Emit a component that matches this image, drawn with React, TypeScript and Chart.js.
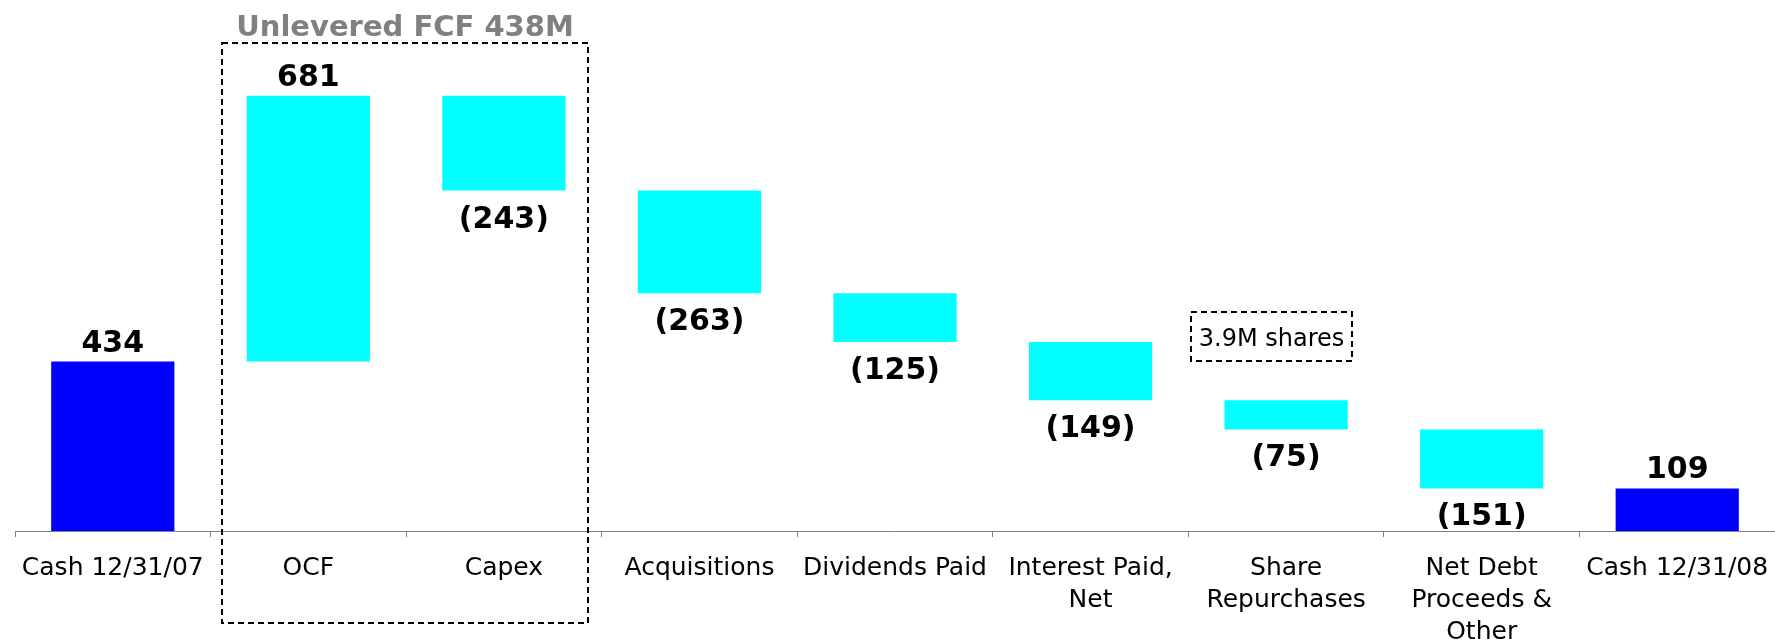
import React, { useEffect, useRef } from "react";
import { Chart, registerables } from "chart.js";

Chart.register(...registerables);

const categories: (string | string[])[] = [
  "Cash 12/31/07",
  "OCF",
  "Capex",
  "Acquisitions",
  "Dividends Paid",
  ["Interest Paid,", "Net"],
  ["Share", "Repurchases"],
  ["Net Debt", "Proceeds &", "Other"],
  "Cash 12/31/08",
];
// changes: first and last are totals
const changes = [434, 681, -243, -263, -125, -149, -75, -151, 109];
const isTotal = [true, false, false, false, false, false, false, false, true];
const labelTexts = ["434", "681", "(243)", "(263)", "(125)", "(149)", "(75)", "(151)", "109"];
const titleText = "Unlevered FCF 438M";
const noteText = "3.9M shares";

const TOTAL_COLOR = "#0000FF";
const DELTA_COLOR = "#00FFFF";

function buildRanges(): [number, number][] {
  const out: [number, number][] = [];
  let run = 0;
  changes.forEach((v, i) => {
    if (isTotal[i]) {
      out.push([0, v]);
      run = v;
    } else {
      out.push([run, run + v]);
      run += v;
    }
  });
  return out;
}

const overlayPlugin = {
  id: "overlay",
  afterDatasetsDraw(chart: any) {
    const ctx = chart.ctx;
    const meta = chart.getDatasetMeta(0);
    const xs = chart.scales.x;
    const ys = chart.scales.y;
    const ranges = buildRanges();
    ctx.save();
    // value labels
    ctx.font = "bold 30px 'DejaVu Sans', Verdana, sans-serif";
    ctx.fillStyle = "#000";
    ctx.textAlign = "center";
    ctx.textBaseline = "alphabetic";
    meta.data.forEach((bar: any, i: number) => {
      const [a, b] = ranges[i];
      const top = ys.getPixelForValue(Math.max(a, b));
      const bottom = ys.getPixelForValue(Math.min(a, b));
      if (changes[i] >= 0) {
        ctx.fillText(labelTexts[i], bar.x, top - 10);
      } else {
        ctx.fillText(labelTexts[i], bar.x, bottom + 37);
      }
    });
    const catW = (xs.right - xs.left) / categories.length;
    // dashed group box
    ctx.setLineDash([6, 4]);
    ctx.lineWidth = 2;
    ctx.strokeStyle = "#000";
    const bl = Math.round(xs.getPixelForValue(1) - 0.44 * catW);
    const br = Math.round(xs.getPixelForValue(2) + 0.43 * catW);
    const bt = Math.round(ys.getPixelForValue(1250));
    const bb = Math.round(chart.chartArea.bottom + 92);
    ctx.strokeRect(bl, bt, br - bl, bb - bt);
    // title
    ctx.setLineDash([]);
    ctx.font = "bold 29px 'DejaVu Sans', Verdana, sans-serif";
    ctx.fillStyle = "#808080";
    ctx.fillText(titleText, (bl + br) / 2, 36);
    // note box
    ctx.setLineDash([6, 4]);
    ctx.lineWidth = 2;
    ctx.strokeStyle = "#000";
    const sc = xs.getPixelForValue(6);
    const nl = Math.round(sc - 0.484 * catW);
    const nr = Math.round(sc + 0.335 * catW);
    const nt = Math.round(ys.getPixelForValue(562));
    const nb = Math.round(ys.getPixelForValue(436));
    ctx.strokeRect(nl, nt, nr - nl, nb - nt);
    ctx.setLineDash([]);
    ctx.font = "24px 'DejaVu Sans', Verdana, sans-serif";
    ctx.fillStyle = "#000";
    ctx.fillText(noteText, (nl + nr) / 2, nb - 15);
    ctx.restore();
  },
};

export default function App() {
  const ref = useRef<HTMLCanvasElement | null>(null);
  useEffect(() => {
    document.body.style.margin = "0";
    const ranges = buildRanges();
    const chart = new Chart(ref.current as HTMLCanvasElement, {
      type: "bar",
      data: {
        labels: categories as any,
        datasets: [
          {
            data: ranges as any,
            backgroundColor: isTotal.map((t) => (t ? TOTAL_COLOR : DELTA_COLOR)),
            borderWidth: 0,
            barPercentage: 0.63,
            categoryPercentage: 1,
          },
        ],
      },
      options: {
        animation: false,
        responsive: true,
        maintainAspectRatio: false,
        layout: { padding: { left: 15, right: 0, top: 0, bottom: 0 } },
        plugins: {
          legend: { display: false },
          tooltip: { enabled: false },
          title: { display: false },
        },
        scales: {
          x: {
            grid: {
              display: true,
              drawOnChartArea: false,
              drawTicks: true,
              tickLength: 6,
              color: "#808080",
              offset: true,
            },
            border: { display: true, color: "#808080", width: 1 },
            ticks: {
              color: "#000",
              padding: 15,
              maxRotation: 0,
              autoSkip: false,
              font: { family: "'DejaVu Sans', Verdana, sans-serif", size: 25, lineHeight: 1.28 },
            },
            afterFit: (axis: any) => {
              axis.height = 110;
              axis.paddingLeft = 0;
              axis.paddingRight = 0;
            },
          },
          y: {
            display: false,
            min: 0,
            max: 1360,
          },
        },
      },
      plugins: [overlayPlugin],
    });
    return () => chart.destroy();
  }, []);
  return (
    <div style={{ position: "fixed", left: 0, top: 0, width: 1775, height: 641 }}>
      <canvas ref={ref} />
    </div>
  );
}
